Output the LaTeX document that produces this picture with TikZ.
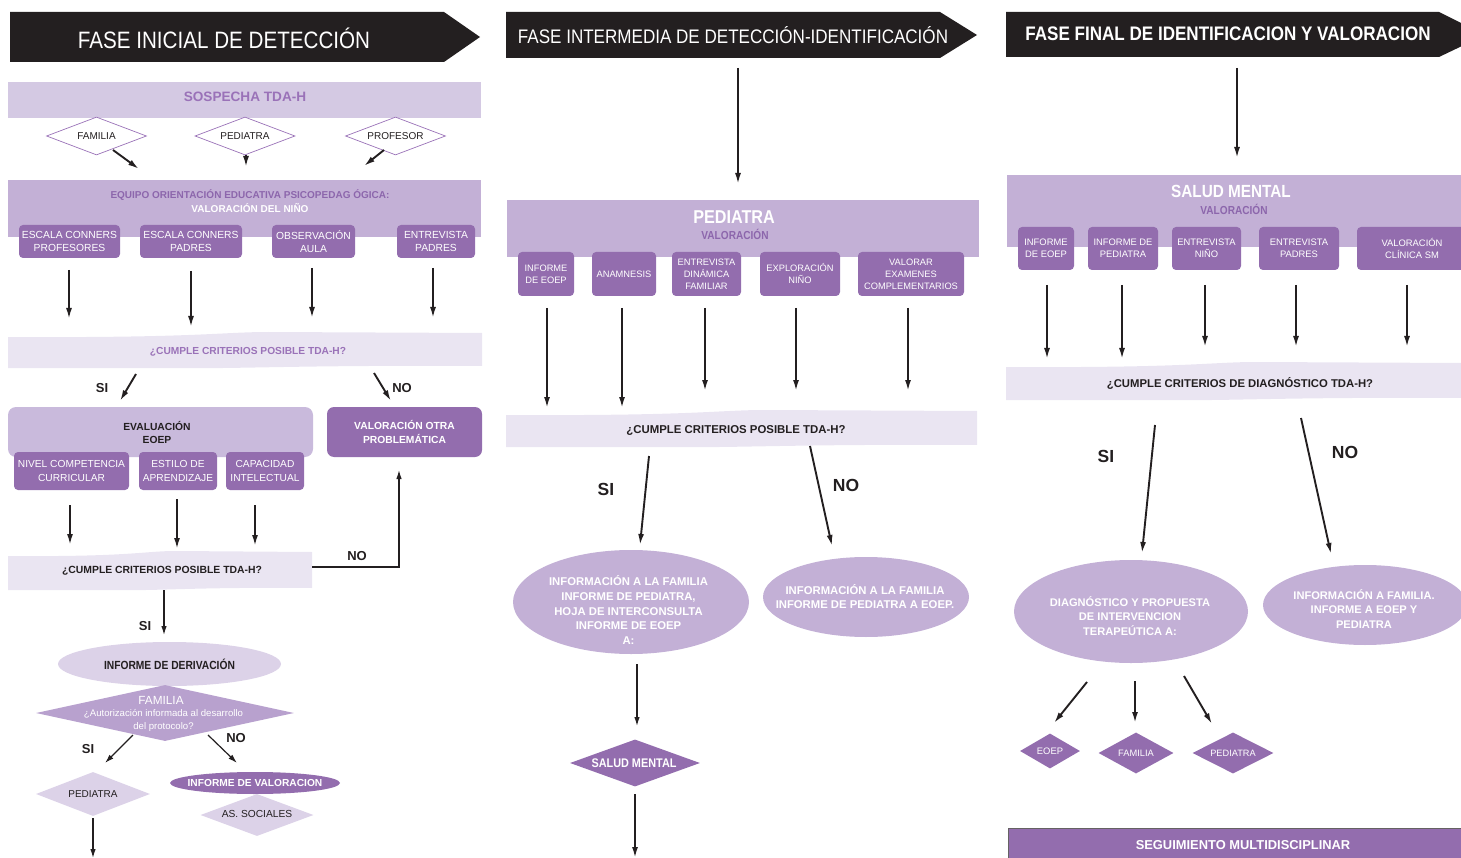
\documentclass[tikz,border=0pt]{standalone}
\usepackage{fontspec}
\setmainfont{Liberation Sans}
\newfontfamily\nar[FakeStretch=0.87]{Liberation Sans}
\usetikzlibrary{shapes.geometric,arrows.meta}
\definecolor{hdr}{HTML}{231F20}
\definecolor{lavA}{HTML}{D4C9E3}
\definecolor{lavB}{HTML}{C3B0D6}
\definecolor{dpur}{HTML}{936DAE}
\definecolor{pale}{HTML}{EAE5F2}
\definecolor{ptxt}{HTML}{9A72B8}
\definecolor{ptxtB}{HTML}{8C66AC}
\definecolor{lightel}{HTML}{DCD2E8}
\definecolor{famd}{HTML}{B8A1CE}
\definecolor{evalb}{HTML}{C9BADC}
\newcommand\fsz[2]{\fontsize{#1}{#2}\selectfont}
\newcommand\conn[4]{\coordinate (#1s) at (#2); \coordinate (#1e) at (#3); \draw[#4] (#1s) -- (#1e);}
\newcommand\wband[5]{%
 \fill[#5] (#1,{#2+5}) .. controls ({#1+0.4*(#3-#1)},{#2+6}) and ({#1+0.45*(#3-#1)},{#2}) .. ({#1+0.55*(#3-#1)},{#2}) -- (#3,{#2+1}) -- (#3,{#4-2}) .. controls ({#1+0.6*(#3-#1)},{#4-3}) and ({#1+0.5*(#3-#1)},{#4+1}) .. ({#1+0.35*(#3-#1)},{#4}) -- (#1,#4) -- cycle;}
\begin{document}
\begin{tikzpicture}[x=1pt,y=-1pt,
  arr/.style={draw=hdr, line width=1.9pt, -{Latex[length=11pt,width=6pt]}},
  tarr/.style={draw=hdr, line width=1.2pt, -{Latex[length=9pt,width=5.5pt]}},
  pbox/.style={fill=dpur, rounded corners=4pt, inner sep=0pt, text=white, align=center},
  txt/.style={inner sep=0pt, align=center},
  yn/.style={inner sep=0pt, text=hdr, font=\bfseries\fsz{13}{15}},
  ynb/.style={inner sep=0pt, text=hdr, font=\bfseries\fsz{17.5}{20}},
  wdia/.style={diamond, draw=ptxt, line width=0.7pt, fill=white, inner sep=0pt},
  fdia/.style={diamond, inner sep=0pt},
  ell/.style={ellipse, inner sep=0pt}
]
\useasboundingbox (0,0) rectangle (1461,858);
\clip (0,0) rectangle (1461,858);

% ================= LEFT COLUMN =================
\fill[hdr] (10,12) -- (444,12) -- (480,37) -- (444,62) -- (10,62) -- cycle;
\node[txt, text=white, font=\nar\fsz{23.7}{26}] (t1) at (224,38.5) {FASE INICIAL DE DETECCIÓN};

\fill[lavA] (8,82) rectangle (481,118);
\node[txt, text=ptxt, font=\bfseries\fsz{13.6}{15}] (sosp) at (245,96.5) {SOSPECHA TDA-H};

\node[wdia, minimum width=100pt, minimum height=38pt] (dfam) at (96.5,136) {};
\node[txt, text=hdr, font=\fsz{10}{12}] at (dfam) {FAMILIA};
\node[wdia, minimum width=100pt, minimum height=38pt] (dped) at (245,136) {};
\node[txt, text=hdr, font=\fsz{10}{12}] at (dped) {PEDIATRA};
\node[wdia, minimum width=100pt, minimum height=38pt] (dpro) at (395.5,136) {};
\node[txt, text=hdr, font=\fsz{10}{12}] at (dpro) {PROFESOR};

\conn{c1}{113,150}{139,169}{arr}
\conn{c2}{246,155}{246,167}{arr}
\conn{c3}{384,150}{364,166}{arr}

\fill[lavB] (8,180) rectangle (481,237);
\node[txt, text=ptxtB, font=\bfseries\fsz{10}{12}] (eq1) at (250,195) {EQUIPO ORIENTACIÓN EDUCATIVA PSICOPEDAG ÓGICA:};
\node[txt, text=white, font=\bfseries\fsz{10}{12}] (eq2) at (250,208.5) {VALORACIÓN DEL NIÑO};

\node[pbox, minimum width=101pt, minimum height=33pt, font=\fsz{10.3}{13.3}] (b1) at (69.5,241.5) {ESCALA CONNERS\\PROFESORES};
\node[pbox, minimum width=102pt, minimum height=33pt, font=\fsz{10.3}{13.3}] (b2) at (191,241.5) {ESCALA CONNERS\\PADRES};
\node[pbox, minimum width=83pt, minimum height=33pt, font=\fsz{10.3}{13.3}] (b3) at (313.5,241.5) {OBSERVACIÓN\\AULA};
\node[pbox, minimum width=78pt, minimum height=33pt, font=\fsz{10.3}{13.3}] (b4) at (436,241.5) {ENTREVISTA\\PADRES};

\conn{c4}{69,270}{69,319}{arr}
\conn{c5}{191,271}{191,327}{arr}
\conn{c6}{312,268}{312,318}{arr}
\conn{c7}{433,268}{433,318}{arr}

\wband{8}{332}{482}{368}{pale}
\node[txt, text=ptxt, font=\bfseries\fsz{10.2}{12}] (q1) at (248,352) {¿CUMPLE CRITERIOS POSIBLE TDA-H?};

\node[yn] (si1) at (102,388) {SI};
\conn{c8}{136,374}{120,401}{arr}
\node[yn] (no1) at (402,388) {NO};
\conn{c9}{374,373}{391,401}{arr}

\fill[evalb, rounded corners=8pt] (8,407) rectangle (313,457);
\node[txt, text=hdr, font=\bfseries\fsz{10.3}{13}] (ev) at (157,432) {EVALUACIÓN\\EOEP};
\node[pbox, minimum width=155pt, minimum height=50pt, rounded corners=7pt, font=\bfseries\fsz{10.3}{13.5}] (otra) at (404.5,432) {VALORACIÓN OTRA\\PROBLEMÁTICA};

\node[pbox, minimum width=115pt, minimum height=38pt, font=\fsz{10.2}{13.2}] (e1) at (71.5,471) {NIVEL COMPETENCIA\\CURRICULAR};
\node[pbox, minimum width=78pt, minimum height=38pt, font=\fsz{10.2}{13.2}] (e2) at (178,471) {ESTILO DE\\APRENDIZAJE};
\node[pbox, minimum width=78pt, minimum height=38pt, font=\fsz{10.2}{13.2}] (e3) at (265,471) {CAPACIDAD\\INTELECTUAL};

\conn{c10}{70,505}{70,545}{arr}
\conn{c11}{177,499}{177,549}{arr}
\conn{c12}{255,505}{255,546}{arr}

\wband{8}{551}{312}{590}{pale}
\node[txt, text=hdr, font=\bfseries\fsz{10.4}{12}] (q2) at (162,571) {¿CUMPLE CRITERIOS POSIBLE TDA-H?};
\coordinate (q2r) at (312,567);
\coordinate (otrab) at (399,470);
\draw[tarr] (q2r) -| (otrab);
\node[yn] (no2) at (357,556) {NO};

\conn{c13}{164,590}{164,635}{tarr}
\node[yn] (si2) at (145,626) {SI};

\node[ell, fill=lightel, minimum width=223pt, minimum height=44pt] (deriv) at (169.5,664) {};
\node[txt, text=hdr, font=\nar\bfseries\fsz{11.8}{13}] at (deriv) {INFORME DE DERIVACIÓN};

\node[fdia, fill=famd, minimum width=258pt, minimum height=56pt] (famq) at (165,713) {};
\node[txt, text=white, font=\fsz{11.8}{13}] (famq1) at (161,700) {FAMILIA};
\node[txt, text=white, font=\fsz{9.6}{13.5}] (famq2) at (163.5,720.5) {¿Autorización informada al desarrollo\\del protocolo?};

\conn{c14}{133,735}{105,763}{tarr}
\node[yn] (si3) at (88,749) {SI};
\conn{c15}{208,735}{237,763}{tarr}
\node[yn] (no3) at (236,738) {NO};

\node[fdia, fill=lightel, minimum width=114pt, minimum height=44pt] (ped2) at (93,794) {};
\node[txt, text=hdr, font=\fsz{10}{12}] at (ped2) {PEDIATRA};

\node[ell, fill=dpur, minimum width=170pt, minimum height=22pt] (infval) at (255,783) {};
\node[txt, text=white, font=\bfseries\fsz{10.2}{12}] at (infval) {INFORME DE VALORACION};
\node[fdia, fill=lightel, minimum width=113pt, minimum height=42pt] (asoc) at (257,815) {};
\node[txt, text=hdr, font=\fsz{10.2}{12}] at (257,814) {AS. SOCIALES};

\conn{c16}{93,818}{93,858}{tarr}

% ================= MIDDLE COLUMN =================
\fill[hdr] (506,12) -- (940,12) -- (977,35) -- (940,58) -- (506,58) -- cycle;
\node[txt, text=white, font=\nar\fsz{19.6}{22}] (t2) at (733,35) {FASE INTERMEDIA DE DETECCIÓN-IDENTIFICACIÓN};

\conn{c20}{738,68}{738,184}{arr}

\fill[lavB] (507,200) rectangle (979,257);
\node[txt, text=white, font=\nar\bfseries\fsz{18.6}{20}] (pedh) at (734,217) {PEDIATRA};
\node[txt, text=ptxtB, font=\nar\bfseries\fsz{11.6}{13}] (pedv) at (735,234) {VALORACIÓN};

\node[pbox, minimum width=56pt, minimum height=44pt, font=\fsz{9.3}{12}] (m1) at (546,274) {INFORME\\DE EOEP};
\node[pbox, minimum width=64pt, minimum height=44pt, font=\fsz{9.3}{12}] (m2) at (624,274) {ANAMNESIS};
\node[pbox, minimum width=69pt, minimum height=44pt, font=\fsz{9.3}{12}] (m3) at (706.5,274) {ENTREVISTA\\DINÁMICA\\FAMILIAR};
\node[pbox, minimum width=80pt, minimum height=44pt, font=\fsz{9.3}{12}] (m4) at (800,274) {EXPLORACIÓN\\NIÑO};
\node[pbox, minimum width=106pt, minimum height=44pt, font=\fsz{9.3}{12}] (m5) at (911,274) {VALORAR\\EXAMENES\\COMPLEMENTARIOS};

\conn{c21}{547,308}{547,408}{arr}
\conn{c22}{622,308}{622,408}{arr}
\conn{c23}{705,308}{705,391}{arr}
\conn{c24}{796,308}{796,391}{arr}
\conn{c25}{908,308}{908,391}{arr}

\wband{506}{410}{977}{447}{pale}
\node[txt, text=hdr, font=\bfseries\fsz{11.4}{13}] (q3) at (736,430) {¿CUMPLE CRITERIOS POSIBLE TDA-H?};

\conn{c26}{649,456}{640,545}{arr}
\node[ynb] (si4) at (606,489) {SI};
\conn{c27}{810,446}{832,546}{arr}
\node[ynb] (no4) at (846,485) {NO};

\node[ell, fill=lavB, minimum width=236pt, minimum height=104pt] (me1) at (631,602) {};
\node[txt, text=white, font=\bfseries\fsz{11.3}{14.7}] at (628.5,610) {INFORMACIÓN A LA FAMILIA\\INFORME DE PEDIATRA,\\HOJA DE INTERCONSULTA\\INFORME DE EOEP\\A:};
\node[ell, fill=lavB, minimum width=206pt, minimum height=80pt] (me2) at (866,597) {};
\node[txt, text=white, font=\bfseries\fsz{11.3}{14.7}] at (865,596.5) {INFORMACIÓN A LA FAMILIA\\INFORME DE PEDIATRA A EOEP.};

\conn{c28}{637,664}{637,726}{tarr}
\node[fdia, fill=dpur, minimum width=130pt, minimum height=47pt] (smd) at (635,763) {};
\node[txt, text=white, font=\nar\bfseries\fsz{12.5}{14}] at (634,763) {SALUD MENTAL};
\conn{c29}{635,794}{635,858}{arr}

% ================= RIGHT COLUMN =================
\fill[hdr] (1006,12) -- (1439,12) -- (1485,35) -- (1439,57) -- (1006,57) -- cycle;
\node[txt, text=white, font=\nar\bfseries\fsz{19.6}{22}] (t3) at (1228,34) {FASE FINAL DE IDENTIFICACION Y VALORACION};

\conn{c30}{1237,68}{1237,158}{arr}

\fill[lavB] (1007,175) rectangle (1461,247);
\node[txt, text=white, font=\nar\bfseries\fsz{17.6}{20}] (smh) at (1231,191) {SALUD MENTAL};
\node[txt, text=ptxtB, font=\nar\bfseries\fsz{11.6}{13}] (smv) at (1234,209) {VALORACIÓN};

\node[pbox, minimum width=56pt, minimum height=43pt, font=\fsz{9.4}{12.3}] (r1) at (1046,248.5) {INFORME\\DE EOEP};
\node[pbox, minimum width=70pt, minimum height=43pt, font=\fsz{9.4}{12.3}] (r2) at (1123,248.5) {INFORME DE\\PEDIATRA};
\node[pbox, minimum width=69pt, minimum height=43pt, font=\fsz{9.4}{12.3}] (r3) at (1206.5,248.5) {ENTREVISTA\\NIÑO};
\node[pbox, minimum width=80pt, minimum height=43pt, font=\fsz{9.4}{12.3}] (r4) at (1299,248.5) {ENTREVISTA\\PADRES};
\node[pbox, minimum width=110pt, minimum height=43pt, font=\fsz{9.4}{12.3}] (r5) at (1412,248.5) {VALORACIÓN\\CLÍNICA SM};

\conn{c31}{1047,285}{1047,359}{arr}
\conn{c32}{1122,285}{1122,359}{arr}
\conn{c33}{1205,285}{1205,347}{arr}
\conn{c34}{1296,285}{1296,347}{arr}
\conn{c35}{1407,285}{1407,347}{arr}

\wband{1006}{362}{1461}{400}{pale}
\node[txt, text=hdr, font=\bfseries\fsz{11.3}{13}] (q4) at (1240,383) {¿CUMPLE CRITERIOS DE DIAGNÓSTICO TDA-H?};

\conn{c36}{1155,425}{1142,553}{arr}
\node[ynb] (si5) at (1106,456) {SI};
\conn{c37}{1301,418}{1331,554}{arr}
\node[ynb] (no5) at (1345,452) {NO};

\node[ell, fill=lavB, minimum width=234pt, minimum height=103pt] (re1) at (1131,611.5) {};
\node[txt, text=white, font=\bfseries\fsz{11.1}{14.8}] at (1130,616) {DIAGNÓSTICO Y PROPUESTA\\DE INTERVENCION\\TERAPEÚTICA A:};
\node[ell, fill=lavB, minimum width=204pt, minimum height=80pt] (re2) at (1365,605) {};
\node[txt, text=white, font=\bfseries\fsz{11.1}{14.8}] at (1364,609) {INFORMACIÓN A FAMILIA.\\INFORME A EOEP Y\\PEDIATRA};

\conn{c38}{1087,682}{1054,723}{arr}
\conn{c39}{1135,681}{1135,723}{arr}
\conn{c40}{1184,676}{1212,724}{arr}

\node[fdia, fill=dpur, minimum width=60pt, minimum height=35pt] (k1) at (1050,751) {};
\node[txt, text=white, font=\fsz{9.4}{11}] at (k1) {EOEP};
\node[fdia, fill=dpur, minimum width=75pt, minimum height=41pt] (k2) at (1136,753) {};
\node[txt, text=white, font=\fsz{9.3}{11}] at (k2) {FAMILIA};
\node[fdia, fill=dpur, minimum width=81pt, minimum height=41pt] (k3) at (1233,753) {};
\node[txt, text=white, font=\fsz{9.2}{11}] at (k3) {PEDIATRA};

\filldraw[fill=dpur, draw=hdr!70, line width=0.8pt] (1008,828) rectangle (1470,870);
\node[txt, text=white, font=\bfseries\fsz{12.9}{15}] (seg) at (1243,845) {SEGUIMIENTO MULTIDISCIPLINAR};
\end{tikzpicture}
\end{document}
